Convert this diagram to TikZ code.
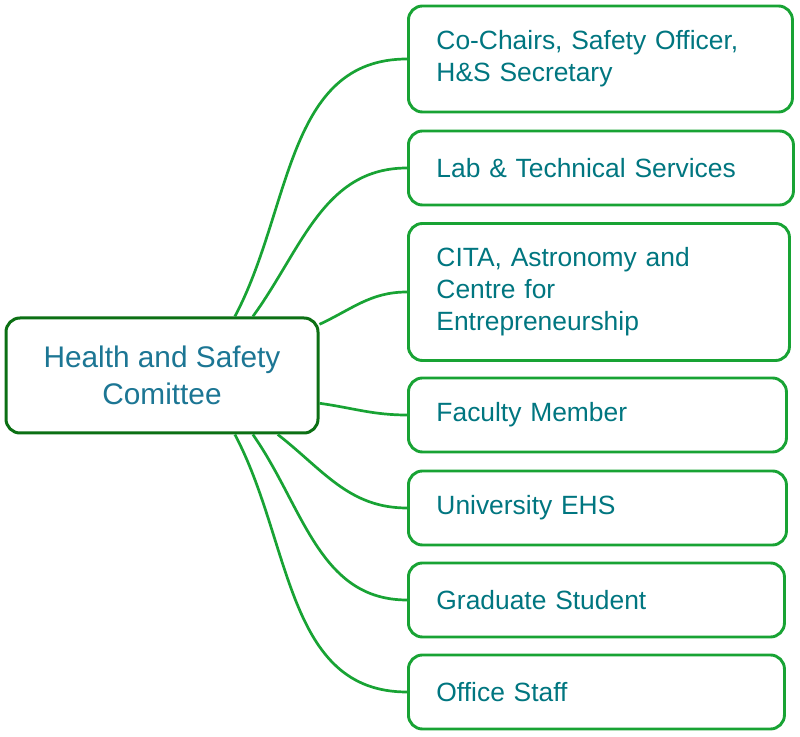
\documentclass[tikz,border=0pt]{standalone}
\usepackage{fontspec}
\setmainfont{Liberation Sans}
\usetikzlibrary{positioning}
\definecolor{leafgreen}{RGB}{24,163,52}
\definecolor{hubgreen}{RGB}{12,112,20}
\definecolor{leaftxt}{RGB}{0,118,128}
\definecolor{hubtxt}{RGB}{28,118,148}
\tikzset{leaf/.style={draw=leafgreen,line width=1.45pt,rounded corners=7pt,fill=white,anchor=west,inner xsep=14pt,text width=#1,align=left,minimum height=37pt,text=leaftxt,font=\fontsize{13.2}{16}\selectfont},
 hub/.style={draw=hubgreen,line width=1.5pt,rounded corners=7pt,fill=white,minimum width=156pt,minimum height=57.5pt,align=center,text=hubtxt,font=\fontsize{14.9}{18.5}\selectfont},
 link/.style={draw=leafgreen,line width=1.35pt}}

\begin{document}
\begin{tikzpicture}[x=0.5pt,y=0.5pt]
\useasboundingbox (0,0) rectangle (800,-737);
\node[hub](hub) at (162,-375.5){Health and Safety\\Comittee};
\node[leaf=164pt,minimum height=53pt](cc) at (407,-59){Co-Chairs, Safety Officer,\\H\&S Secretary};
\node[leaf=164.5pt](lab) at (407,-168){Lab \& Technical Services};
\node[leaf=162.5pt,minimum height=68.5pt](cita) at (407,-292){CITA, Astronomy and\\Centre for\\Entrepreneurship};
\node[leaf=161pt](fac) at (407,-415){Faculty Member};
\node[leaf=161pt](ehs) at (407,-508){University EHS};
\node[leaf=160pt](grad) at (407,-600){Graduate Student};
\node[leaf=160pt](staff) at (407,-692){Office Staff};
% links from the committee box
\draw[link](hub.39.4) to[out=62,in=180] (cc.west);
\draw[link](hub.33.2) to[out=54,in=180] (lab.west);
\draw[link](hub.18) to[out=25,in=180] (cita.west);
\draw[link](hub.-10.7) to[out=-8,in=180] (fac.west);
\draw[link](hub.-27) to[out=-38,in=180] (ehs.west);
\draw[link](hub.-33.2) to[out=-55,in=180] (grad.west);
\draw[link](hub.-39.4) to[out=-62,in=180] (staff.west);
\end{tikzpicture}
\end{document}
